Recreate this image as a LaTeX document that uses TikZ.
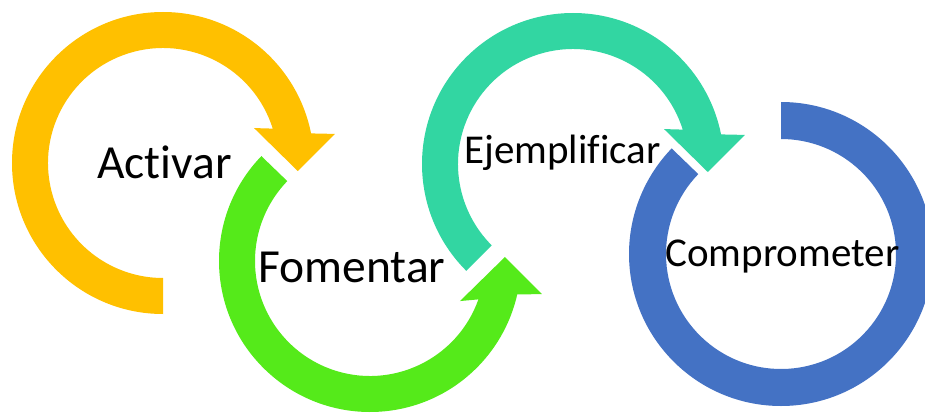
\documentclass[tikz,border=0pt]{standalone}
\usepackage{fontspec}
\setmainfont{Carlito}[Ligatures=CommonOff]
\usepackage{tikz}
\definecolor{activarcol}{HTML}{FFC000}
\definecolor{fomentarcol}{HTML}{55EA1A}
\definecolor{ejemplocol}{HTML}{32D6A2}
\definecolor{compromcol}{HTML}{4472C4}
\begin{document}
\begin{tikzpicture}[x=1pt,y=1pt,
  big/.style={inner sep=0pt,anchor=base,font=\fontsize{47.5}{57}\selectfont},
  small/.style={inner sep=0pt,anchor=base,font=\fontsize{41}{49}\selectfont}]
\clip (0,0) rectangle (925,413);
\begin{scope}[shift={(163,250)}]
\fill[activarcol] (270:151) arc[start angle=270,end angle=11.3,radius=151]
  -- (9.6:174.4) -- (-3.4:135) -- (21:97.5) -- (17.4:115)
  arc[start angle=17.4,end angle=270,radius=115] -- cycle;
\end{scope}
\begin{scope}[shift={(370,152)}]
\fill[fomentarcol] (136:151) arc[start angle=136,end angle=347.2,radius=151]
  -- (-10.9:175) -- (1.7:135) -- (-24:98.5) -- (-19.5:115)
  arc[start angle=340.5,end angle=136,radius=115] -- cycle;
\end{scope}
\begin{scope}[shift={(573,249)}]
\fill[ejemplocol] (225:151) arc[start angle=225,end angle=11.3,radius=151]
  -- (9.6:174.4) -- (-3.4:135) -- (21:97.5) -- (17.4:115)
  arc[start angle=17.4,end angle=225,radius=115] -- cycle;
\end{scope}
\begin{scope}[shift={(781,159)}]
\fill[compromcol] (90:152) arc[start angle=90,end angle=-224,radius=152]
  -- (-224:115) arc[start angle=-224,end angle=90,radius=115] -- cycle;
\end{scope}
\node[big] (activar) at (164.5,235) {Activar};
\node[big] (fomentar) at (352,131) {Fomentar};
\node[small] (ejemplificar) at (562.5,250) {Ejemplificar};
\node[small] (comprometer) at (782.5,147) {Comprometer};
\end{tikzpicture}
\end{document}
